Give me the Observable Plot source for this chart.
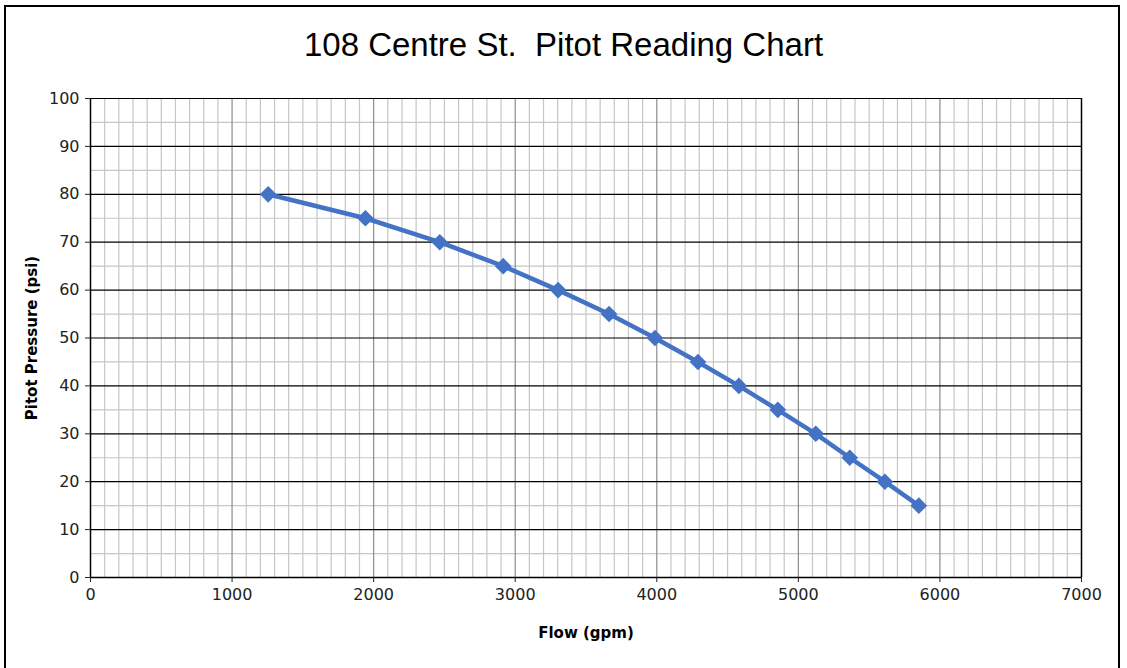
<!DOCTYPE html>
<html>
<head>
<meta charset="utf-8">
<script src="https://cdn.jsdelivr.net/npm/d3@7"></script>
<script src="https://cdn.jsdelivr.net/npm/@observablehq/plot@0.6"></script>
<style>
  html, body { margin: 0; padding: 0; background: #fff; overflow: hidden; width: 1127px; height: 668px; }
  #frame { position: absolute; left: 4px; top: 5px; width: 1116px; height: 700px; border: 2px solid #000; box-sizing: border-box; z-index: 5; pointer-events: none; }
  #title { position: absolute; left: 0; top: 26px; width: 1127px; text-align: center; font-family: "Liberation Sans", Arial, sans-serif; font-size: 33px; color: #000; white-space: pre; }
  #chart { position: absolute; left: 0; top: 80px; }
</style>
</head>
<body>
<div id="title">108 Centre St.  Pitot Reading Chart</div>
<div id="chart"></div>
<div id="frame"></div>
<script>
const flow = [1255, 1942, 2467, 2915, 3303, 3663, 3987, 4291, 4580, 4855, 5123, 5363, 5611, 5851];
const pressure = [80, 75, 70, 65, 60, 55, 50, 45, 40, 35, 30, 25, 20, 15];
const xTicks = [0, 1000, 2000, 3000, 4000, 5000, 6000, 7000];
const yTicks = [0, 10, 20, 30, 40, 50, 60, 70, 80, 90, 100];
const xTitle = "Flow (gpm)";
const yTitle = "Pitot Pressure (psi)";

const data = flow.map((f, i) => ({flow: f, pressure: pressure[i]}));
const xMinor = d3.range(100, 7000, 100).filter(v => v % 1000 !== 0);
const yMinor = d3.range(5, 100, 10);
const xMajorInner = xTicks.filter(v => v !== 0 && v !== 7000);

const chart = Plot.plot({
  width: 1127,
  height: 588,
  marginLeft: 90,
  marginRight: 46,
  marginTop: 18,
  marginBottom: 91,
  x: {domain: [0, 7000]},
  y: {domain: [0, 100]},
  style: {fontFamily: "DejaVu Sans, sans-serif", fontSize: "16px", color: "#222", background: "transparent"},
  marks: [
    Plot.ruleX(xMinor, {stroke: "#c6c6c6", strokeWidth: 1.2}),
    Plot.ruleY(yMinor, {stroke: "#c6c6c6", strokeWidth: 1.2}),
    Plot.ruleX(xMajorInner, {stroke: "#8c8c8c", strokeWidth: 1.2}),
    Plot.ruleY(yTicks.filter(v => v !== 0), {stroke: "#000", strokeWidth: 1.2}),
    Plot.ruleX([7000], {stroke: "#000", strokeWidth: 1.5}),
    Plot.ruleX([0], {stroke: "#000", strokeWidth: 1.5}),
    Plot.ruleY([0], {stroke: "#000", strokeWidth: 1.5}),
    Plot.axisX({ticks: xTicks, tickSize: 5, tickPadding: 6, label: null, tickFormat: d => String(d), fontSize: 16}),
    Plot.axisY({ticks: yTicks, tickSize: 5, tickPadding: 6, label: null, tickFormat: d => String(d), fontSize: 16}),
    Plot.line(data, {x: "flow", y: "pressure", stroke: "#4472C4", strokeWidth: 4.5}),
    Plot.dot(data, {x: "flow", y: "pressure", symbol: "diamond2", r: 7.5, fill: "#4472C4", stroke: "none"}),
    Plot.text([xTitle], {frameAnchor: "bottom", dy: 60, fontWeight: "bold", fontSize: 15, fill: "#000"}),
    Plot.text([yTitle], {frameAnchor: "left", textAnchor: "middle", dx: -58, rotate: -90, fontWeight: "bold", fontSize: 15, fill: "#000"})
  ]
});
document.getElementById("chart").appendChild(chart);
</script>
</body>
</html>
